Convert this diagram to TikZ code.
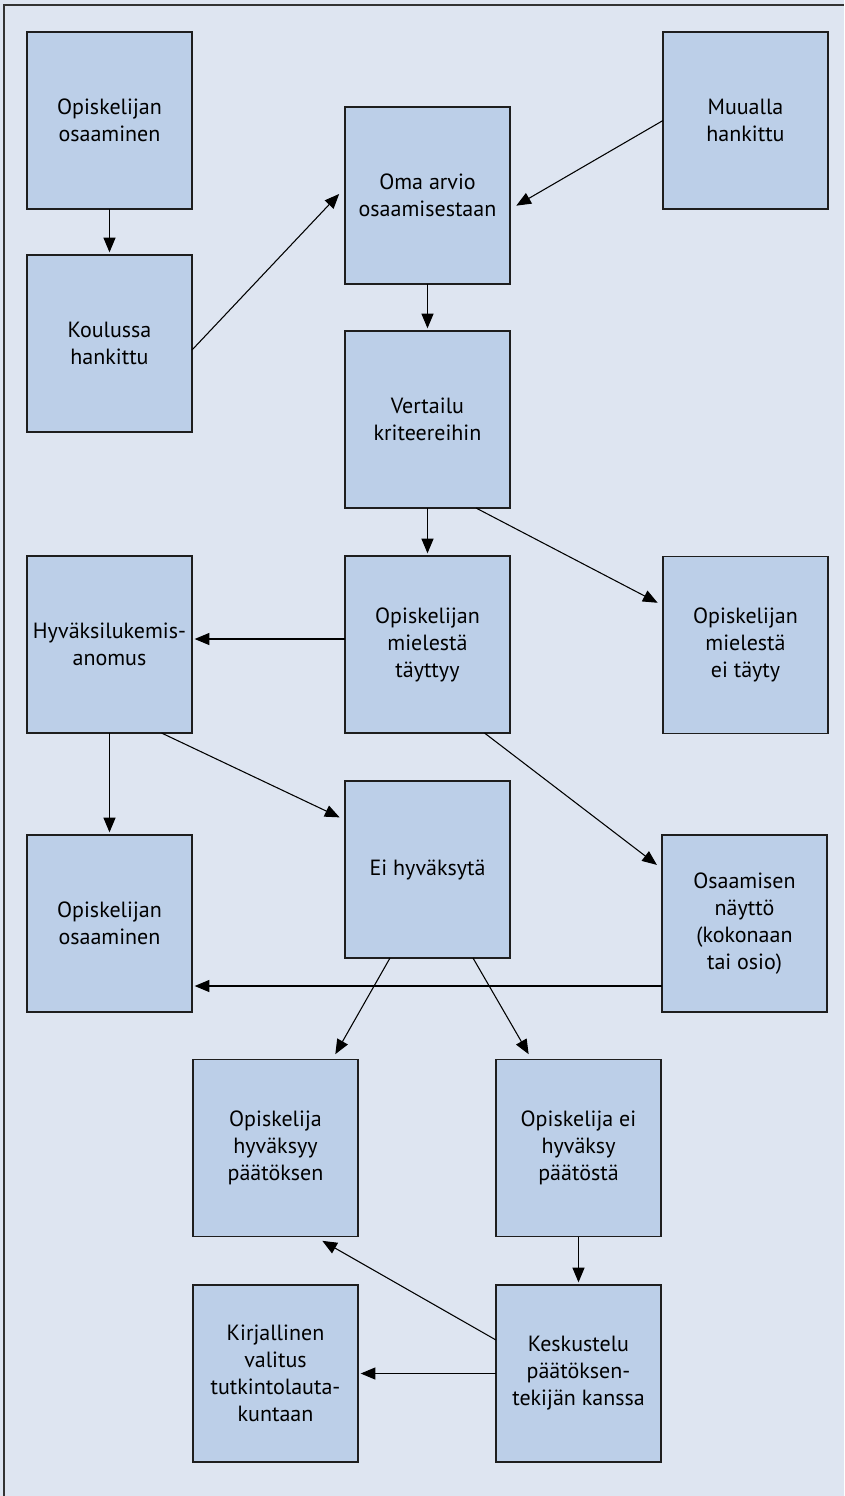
\documentclass[tikz,border=0pt]{standalone}
\usepackage{fontspec}
\setmainfont{PT Sans}
\usepackage{tikz}
\usetikzlibrary{
  arrows.meta,
  calc,         % Calculations $...$
}
\definecolor{pagebg}{RGB}{222,229,241}
\definecolor{boxfill}{RGB}{188,207,232}
\definecolor{boxline}{RGB}{30,30,30}
\tikzset{
  x=0.75pt,
  y=-0.75pt,
  >={Triangle[length=11pt,width=9pt]},
  my box/.style={
    draw=boxline,
    fill=boxfill,
    line width=0.9pt,
    minimum width=123.75pt,
    minimum height=132.75pt,
    inner sep=0mm,
    outer sep=0mm,
    align=center,
    font=\fontsize{16.5}{20.25}\selectfont,
    rectangle
  },
  my arrow/.style={
    ->,
    line width=0.8pt,
    shorten >=2pt
  }
}
\begin{document}
\begin{tikzpicture}
\fill[pagebg] (0,0) rectangle (844,1496);
\useasboundingbox (0,0) rectangle (844,1496);
\draw[line width=1.6pt,black!80] (4,1496) -- (4,5) -- (844,5);
% boxes
\node[my box] (osaa1)     at (109.5,120.5)  {Opiskelijan\\osaaminen};
\node[my box] (koulu)     at (109.5,343.5)  {Koulussa\\hankittu};
\node[my box] (oma)       at (427.5,195.5)  {Oma arvio\\osaamisestaan};
\node[my box] (muualla)   at (745.5,120.5)  {Muualla\\hankittu};
\node[my box] (vert)      at (427.5,419.5)  {Vertailu\\kriteereihin};
\node[my box] (hyva)      at (109.5,644.5)  {Hyväksilukemis-\\anomus};
\node[my box] (tayttyy)   at (427.5,644.5)  {Opiskelijan\\mielestä\\täyttyy};
\node[my box] (eitayty)   at (745.5,645)    {Opiskelijan\\mielestä\\ei täyty};
\node[my box] (osaa2)     at (109.5,923.5)  {Opiskelijan\\osaaminen};
\node[my box] (eihyv)     at (427.5,869.5)  {Ei hyväksytä};
\node[my box] (naytto)    at (744.5,923.5)  {Osaamisen\\näyttö\\(kokonaan\\tai osio)};
\node[my box] (hyvpaat)   at (275.5,1148)   {Opiskelija\\hyväksyy\\päätöksen};
\node[my box] (eihyvpaat) at (578.5,1148)   {Opiskelija ei\\hyväksy\\päätöstä};
\node[my box] (kirj)      at (275.5,1373.5) {Kirjallinen\\valitus\\tutkintolauta-\\kuntaan};
\node[my box] (kesk)      at (578.5,1373.5) {Keskustelu\\päätöksen-\\tekijän kanssa};
% arrows
\draw[my arrow] (osaa1) -- (koulu);
\draw[my arrow] ($(koulu.east)+(0,6.5)$) -- ($(oma.west)+(-4,-3.5)$);
\draw[my arrow] (muualla.west) -- ($(oma.east)+(4,11.5)$);
\draw[my arrow] (oma) -- (vert);
\draw[my arrow] (vert) -- (tayttyy);
\draw[my arrow] ($(vert.south)+(48.5,0)$) -- ($(eitayty.west)+(-3,-41)$);
\draw[my arrow] ($(tayttyy.west)+(0,-5.5)$) -- ($(hyva.east)+(0,-5.5)$);
\draw[my arrow] (hyva) -- (osaa2);
\draw[my arrow] ($(hyva.south)+(52,0)$) -- ($(eihyv.west)+(-3,-51)$);
\draw[my arrow] ($(tayttyy.south)+(57,0)$) -- ($(naytto.west)+(-3,-57)$);
\draw[my arrow] ($(naytto.west)+(0,62.5)$) -- ($(osaa2.east)+(0,62.5)$);
\draw[my arrow] ($(eihyv.south)+(-37.5,0)$) -- ($(hyvpaat.north)+(58.5,-3)$);
\draw[my arrow] ($(eihyv.south)+(45.5,0)$) -- ($(eihyvpaat.north)+(-48.5,-3)$);
\draw[my arrow] (eihyvpaat) -- (kesk);
\draw[my arrow] ($(kesk.west)+(0,-33.5)$) -- ($(hyvpaat.south)+(44.5,3)$);
\draw[my arrow] (kesk) -- (kirj);
\end{tikzpicture}
\end{document}
